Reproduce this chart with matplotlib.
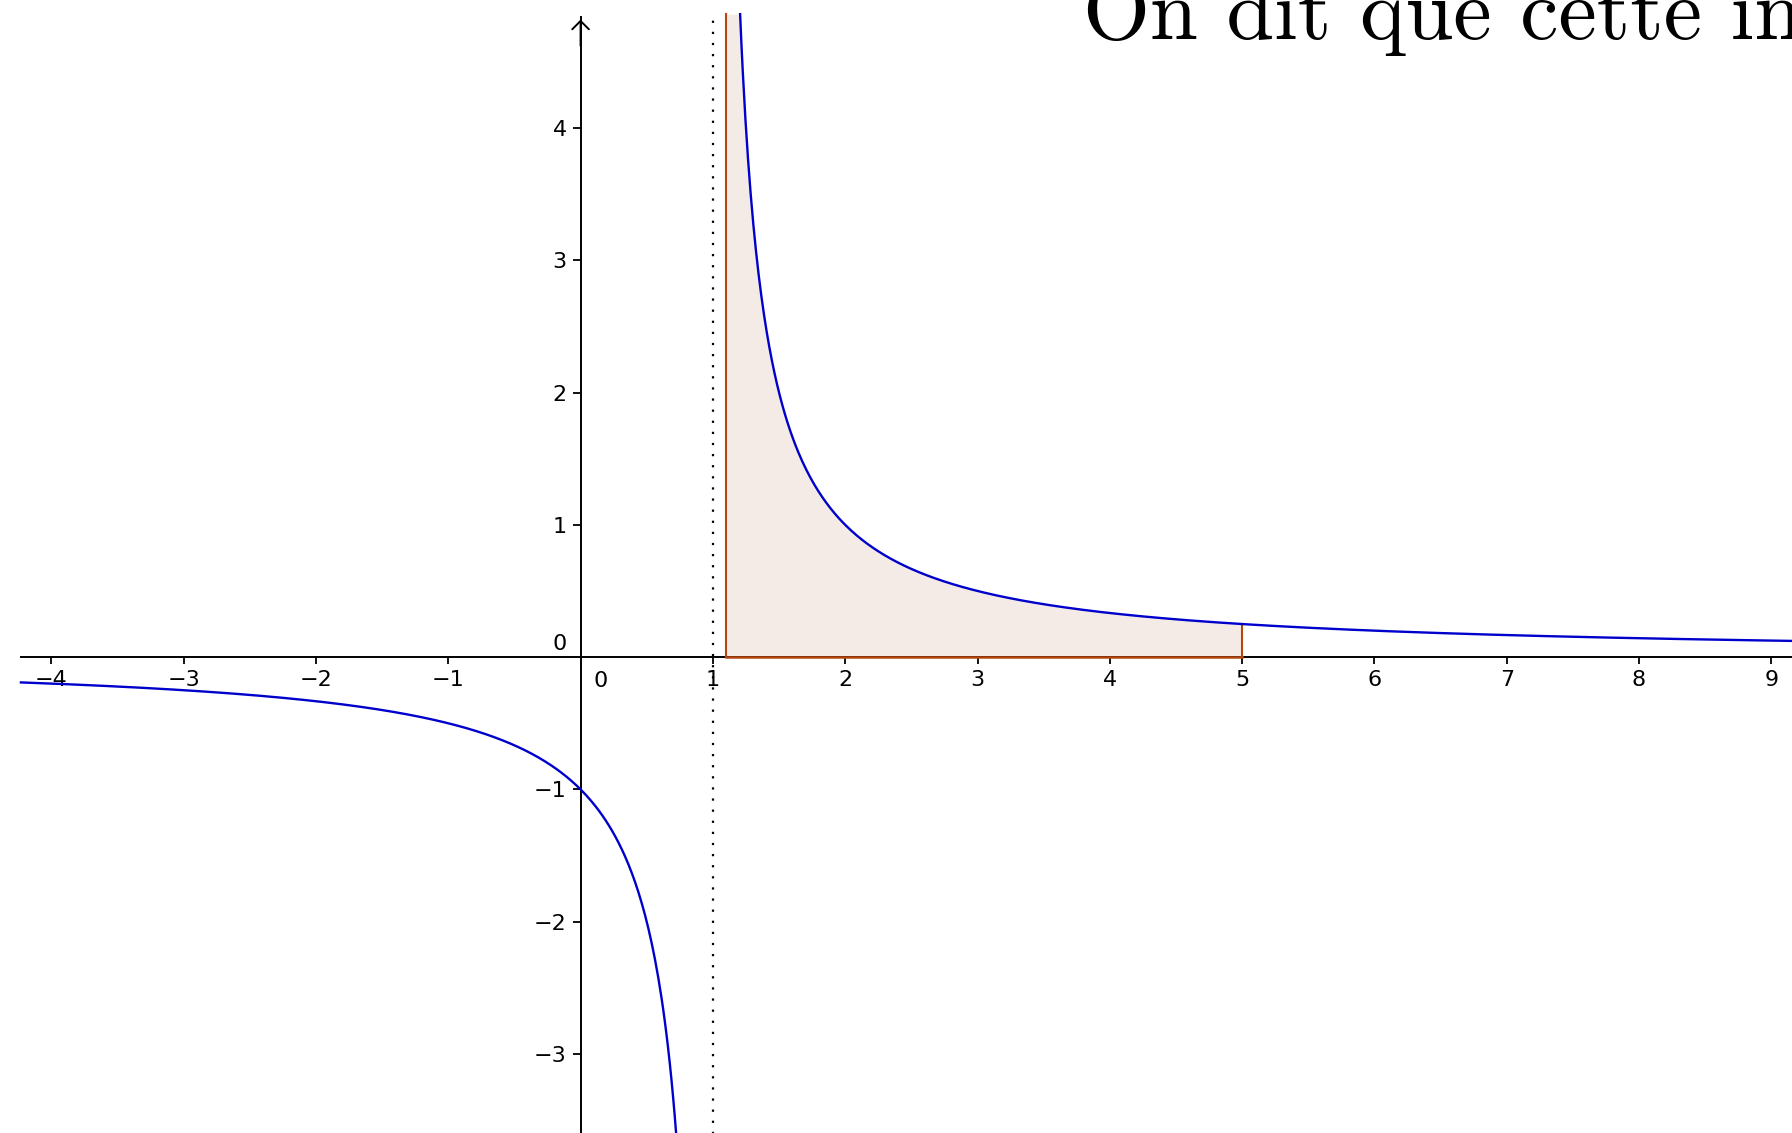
"""
Aire sous la courbe de f(x) = 1/(x-1) entre 1.1 et 5.
"""
import numpy as np
import matplotlib.pyplot as plt

# courbe et bornes
asymptote = 1.0
borne_a = 1.1
borne_b = 5.0
x_min, x_max = -4.23, 9.2
y_min, y_max = -3.62, 4.86

x_ticks = [-4, -3, -2, -1, 1, 2, 3, 4, 5, 6, 7, 8, 9]
y_ticks = [-3, -2, -1, 1, 2, 3, 4]
titre = "On dit que cette intégrale converge"


def f(x):
    return 1.0 / (x - asymptote)


def lab(t):
    return str(t).replace("-", "\u2212")


fig = plt.figure(figsize=(17.92, 11.33), dpi=100)
ax = fig.add_axes([0, 0, 1, 1])
ax.set_xlim(-4.388, 9.156)
ax.set_ylim(-3.597, 4.967)

# branche gauche / droite de l'hyperbole
xl = np.linspace(x_min, asymptote + 1.0 / y_min, 400)
xr = np.linspace(asymptote + 1.0 / y_max, x_max, 800)
blue = "#0000cc"
ax.plot(xl, f(xl), color=blue, lw=1.7, zorder=5)
ax.plot(xr, f(xr), color=blue, lw=1.7, zorder=5)

# aire
xf = np.linspace(borne_a, borne_b, 600)
yf = np.minimum(f(xf), y_max)
ax.fill_between(xf, 0, yf, color="#f5ebe6", lw=0, zorder=1)
edge = "#b5470f"
ax.plot([borne_a, borne_a], [0, y_max], color=edge, lw=1.5, zorder=4)
ax.plot([borne_b, borne_b], [0, f(borne_b)], color=edge, lw=1.5, zorder=4)
ax.plot([borne_a, borne_b], [0, 0], color=edge, lw=1.8, zorder=4)

# asymptote
ax.plot([asymptote, asymptote], [-3.7, y_max], color="black", lw=1.6,
        linestyle=(0, (1, 4)), zorder=2)

# axes passant par l'origine
for s in ["top", "right"]:
    ax.spines[s].set_visible(False)
ax.spines["left"].set_position(("data", 0))
ax.spines["bottom"].set_position(("data", 0))
ax.spines["left"].set_bounds(-3.7, 4.84)
ax.spines["bottom"].set_bounds(x_min, 9.2)
ax.spines["left"].set_linewidth(1.4)
ax.spines["bottom"].set_linewidth(1.4)
ax.spines["left"].set_zorder(3)
ax.spines["bottom"].set_zorder(3)

arrow = dict(arrowstyle="->,head_length=0.3,head_width=0.3", lw=1.4,
             mutation_scale=20, color="black")
ax.annotate("", xy=(0, 4.84), xytext=(0, 4.6), arrowprops=arrow)
ax.annotate("", xy=(9.2, 0), xytext=(9.0, 0), arrowprops=arrow)

ax.set_xticks(x_ticks)
ax.set_xticklabels([lab(t) for t in x_ticks])
ax.set_yticks(y_ticks)
ax.set_yticklabels([lab(t) for t in y_ticks])
ax.tick_params(axis="x", direction="out", length=5, width=1.3, pad=4, labelsize=16)
ax.tick_params(axis="y", direction="out", length=6, width=1.3, pad=4, labelsize=16)

ax.text(0.15, -0.18, "0", fontsize=16, ha="center", va="center")
ax.text(-0.16, 0.1, "0", fontsize=16, ha="center", va="center")

fig.text(1083 / 1792, 1 - 39 / 1133, titre, fontsize=62,
         family=["cmr10", "DejaVu Serif"], ha="left", va="baseline")

fig.savefig("out.png", dpi=100)
